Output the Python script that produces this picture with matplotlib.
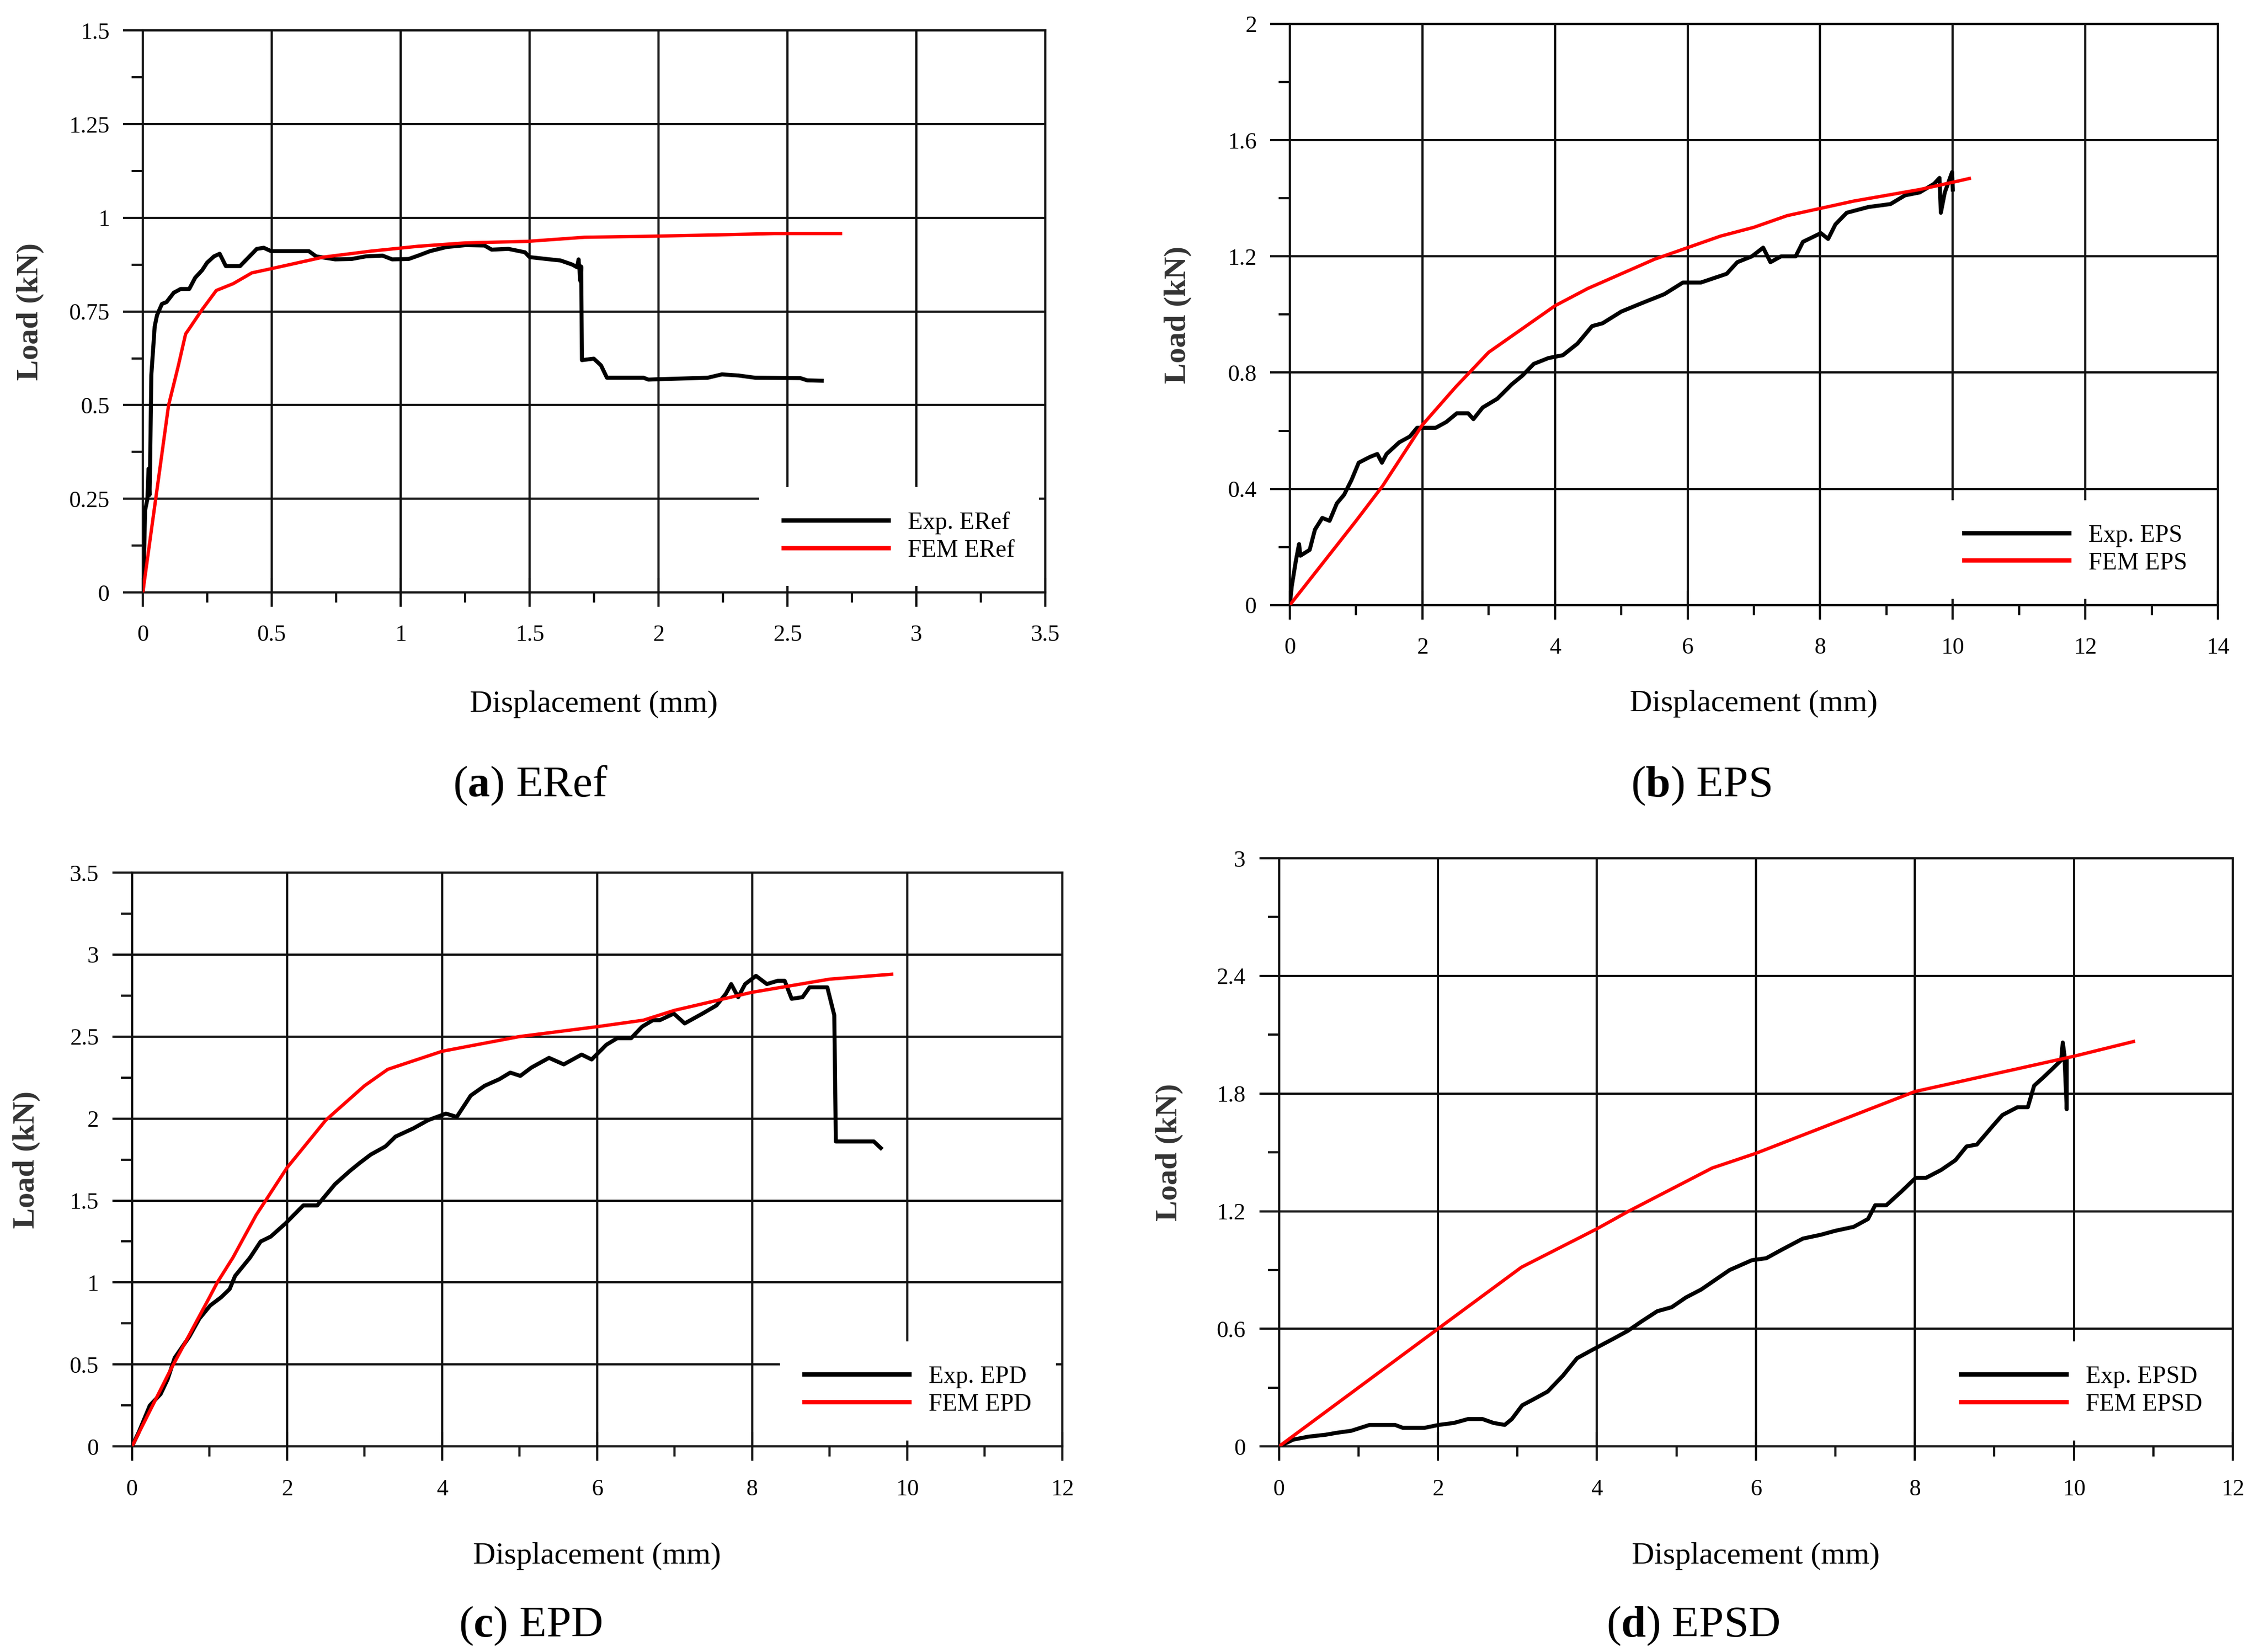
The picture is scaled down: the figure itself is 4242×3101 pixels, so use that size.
import numpy as np
import matplotlib
matplotlib.use("Agg")
import matplotlib.pyplot as plt
from matplotlib.ticker import MultipleLocator, FixedLocator

plt.rcParams['font.family'] = ['Liberation Serif', 'DejaVu Serif']
plt.rcParams['mathtext.fontset'] = 'custom'
plt.rcParams['mathtext.rm'] = 'Liberation Serif'
plt.rcParams['mathtext.bf'] = 'Liberation Serif:bold'

# ---------------- (a) ERef ----------------
a_exp_x = [0, 0.0037, 0.009, 0.018, 0.022, 0.026, 0.028, 0.030, 0.033, 0.040, 0.046, 0.055, 0.074, 0.092,
           0.120, 0.147, 0.180, 0.203, 0.230, 0.249, 0.276, 0.298, 0.322, 0.377, 0.442, 0.469, 0.497,
           0.644, 0.672, 0.746, 0.810, 0.865, 0.930, 0.967, 1.031, 1.068, 1.114, 1.178, 1.252, 1.325,
           1.353, 1.418, 1.482, 1.500, 1.565, 1.620, 1.666, 1.684, 1.690, 1.697, 1.700, 1.703, 1.749,
           1.777, 1.800, 1.942, 1.961, 1.997, 2.191, 2.246, 2.310, 2.375, 2.550, 2.577, 2.633]
a_exp_y = [0, 0.07, 0.22, 0.25, 0.33, 0.26, 0.33, 0.43, 0.58, 0.65, 0.71, 0.74, 0.77, 0.775,
           0.80, 0.81, 0.81, 0.84, 0.86, 0.88, 0.897, 0.904, 0.871, 0.871, 0.917, 0.92, 0.911,
           0.911, 0.897, 0.889, 0.89, 0.897, 0.899, 0.889, 0.89, 0.899, 0.911, 0.922, 0.927, 0.926,
           0.915, 0.917, 0.908, 0.895, 0.89, 0.886, 0.875, 0.868, 0.889, 0.831, 0.87, 0.62, 0.624,
           0.606, 0.573, 0.573, 0.568, 0.569, 0.573, 0.582, 0.579, 0.573, 0.572, 0.566, 0.565]
a_fem_x = [0, 0.05, 0.10, 0.138, 0.166, 0.18, 0.23, 0.285, 0.35, 0.423, 0.497, 0.589, 0.70, 0.884,
           1.068, 1.252, 1.491, 1.712, 1.988, 2.264, 2.449, 2.706]
a_fem_y = [0, 0.25, 0.50, 0.606, 0.69, 0.704, 0.755, 0.806, 0.824, 0.853, 0.864, 0.878, 0.895, 0.911,
           0.924, 0.933, 0.937, 0.948, 0.951, 0.955, 0.958, 0.958]

# ---------------- (b) EPS ----------------
b_exp_x = [0, 0.03, 0.09, 0.14, 0.16, 0.30, 0.38, 0.49, 0.60, 0.71, 0.82, 0.93, 1.04, 1.21, 1.32, 1.39,
           1.46, 1.65, 1.81, 1.92, 2.03, 2.20, 2.36, 2.52, 2.69, 2.77, 2.91, 3.13, 3.35, 3.51, 3.68,
           3.90, 4.12, 4.34, 4.56, 4.72, 5.0, 5.32, 5.65, 5.93, 6.20, 6.59, 6.75, 6.97, 7.14, 7.25,
           7.41, 7.63, 7.74, 8.01, 8.12, 8.23, 8.40, 8.73, 9.06, 9.28, 9.50, 9.72, 9.80, 9.82, 9.88,
           9.99, 10.0]
b_exp_y = [0, 0.065, 0.15, 0.21, 0.17, 0.19, 0.26, 0.30, 0.29, 0.35, 0.38, 0.43, 0.49, 0.51, 0.52, 0.49,
           0.52, 0.56, 0.58, 0.61, 0.61, 0.61, 0.63, 0.66, 0.66, 0.64, 0.68, 0.71, 0.76, 0.79, 0.83,
           0.85, 0.86, 0.90, 0.96, 0.97, 1.01, 1.04, 1.07, 1.11, 1.11, 1.14, 1.18, 1.20, 1.23, 1.18,
           1.20, 1.20, 1.25, 1.28, 1.26, 1.31, 1.35, 1.37, 1.38, 1.41, 1.42, 1.45, 1.47, 1.35, 1.42,
           1.49, 1.43]
b_fem_x = [0, 1.0, 1.4, 2.0, 2.5, 3.0, 3.5, 4.0, 4.5, 5.0, 5.5, 6.0, 6.5, 7.0, 7.5, 8.0, 8.5, 9.0,
           9.5, 10.0, 10.25]
b_fem_y = [0, 0.29, 0.41, 0.62, 0.75, 0.87, 0.95, 1.03, 1.09, 1.14, 1.19, 1.23, 1.27, 1.30, 1.34,
           1.365, 1.39, 1.41, 1.43, 1.455, 1.468]

# ---------------- (c) EPD ----------------
c_exp_x = [0, 0.09, 0.23, 0.37, 0.46, 0.55, 0.74, 0.87, 1.01, 1.15, 1.26, 1.33, 1.52, 1.66, 1.79, 1.98,
           2.21, 2.39, 2.62, 2.81, 2.94, 3.08, 3.27, 3.40, 3.63, 3.82, 4.05, 4.19, 4.37, 4.55, 4.74,
           4.88, 5.01, 5.15, 5.38, 5.57, 5.80, 5.93, 6.12, 6.26, 6.44, 6.58, 6.72, 6.81, 6.99, 7.13,
           7.36, 7.54, 7.66, 7.73, 7.82, 7.91, 8.05, 8.19, 8.33, 8.42, 8.51, 8.65, 8.74, 8.97, 9.06,
           9.08, 9.20, 9.57, 9.66]
c_exp_y = [0, 0.09, 0.25, 0.32, 0.41, 0.54, 0.67, 0.78, 0.86, 0.91, 0.96, 1.04, 1.15, 1.25, 1.28, 1.36,
           1.47, 1.47, 1.60, 1.68, 1.73, 1.78, 1.83, 1.89, 1.94, 1.99, 2.03, 2.01, 2.14, 2.20, 2.24,
           2.28, 2.26, 2.31, 2.37, 2.33, 2.39, 2.36, 2.45, 2.49, 2.49, 2.56, 2.60, 2.60, 2.64, 2.58,
           2.64, 2.69, 2.76, 2.82, 2.74, 2.82, 2.87, 2.82, 2.84, 2.84, 2.73, 2.74, 2.80, 2.80, 2.63,
           1.86, 1.86, 1.86, 1.82]
c_fem_x = [0, 0.5, 1.0, 1.1, 1.3, 1.6, 2.0, 2.5, 3.0, 3.3, 4.0, 5.0, 6.0, 6.6, 7.0, 8.0, 9.0, 9.8]
c_fem_y = [0, 0.47, 0.91, 1.0, 1.15, 1.41, 1.70, 1.99, 2.20, 2.30, 2.41, 2.50, 2.56, 2.60, 2.66, 2.77,
           2.85, 2.88]

# ---------------- (d) EPSD ----------------
d_exp_x = [0, 0.18, 0.37, 0.59, 0.73, 0.91, 1.14, 1.46, 1.56, 1.83, 2.01, 2.20, 2.38, 2.56, 2.70, 2.84,
           2.93, 3.06, 3.20, 3.38, 3.57, 3.75, 3.93, 4.21, 4.39, 4.57, 4.76, 4.94, 5.12, 5.31, 5.49,
           5.67, 5.95, 6.13, 6.31, 6.59, 6.82, 7.0, 7.23, 7.41, 7.50, 7.64, 7.83, 8.01, 8.14, 8.33,
           8.51, 8.65, 8.78, 8.97, 9.10, 9.29, 9.42, 9.50, 9.61, 9.74, 9.84, 9.86, 9.88, 9.91, 9.91]
d_exp_y = [0, 0.035, 0.05, 0.06, 0.07, 0.08, 0.11, 0.11, 0.095, 0.095, 0.11, 0.12, 0.14, 0.14, 0.12, 0.11,
           0.14, 0.21, 0.24, 0.28, 0.36, 0.45, 0.49, 0.55, 0.59, 0.64, 0.69, 0.71, 0.76, 0.80, 0.85,
           0.90, 0.95, 0.96, 1.00, 1.06, 1.08, 1.10, 1.12, 1.16, 1.23, 1.23, 1.30, 1.37, 1.37, 1.41,
           1.46, 1.53, 1.54, 1.63, 1.69, 1.73, 1.73, 1.84, 1.88, 1.93, 1.97, 2.06, 2.00, 1.72, 1.97]
d_fem_x = [0, 2.0, 3.05, 4.0, 4.4, 5.45, 6.0, 8.0, 10.0, 10.75]
d_fem_y = [0, 0.60, 0.914, 1.11, 1.20, 1.42, 1.495, 1.81, 1.99, 2.065]

# ---------------- axis settings ----------------
panels = [
    dict(exp=(a_exp_x, a_exp_y), fem=(a_fem_x, a_fem_y), names=("Exp. ERef", "FEM ERef"),
         xticks=[0, 0.5, 1, 1.5, 2, 2.5, 3, 3.5], xlabels=["0", "0.5", "1", "1.5", "2", "2.5", "3", "3.5"],
         yticks=[0, 0.25, 0.5, 0.75, 1, 1.25, 1.5], ylabels=["0", "0.25", "0.5", "0.75", "1", "1.25", "1.5"],
         caption=("a", "ERef")),
    dict(exp=(b_exp_x, b_exp_y), fem=(b_fem_x, b_fem_y), names=("Exp. EPS", "FEM EPS"),
         xticks=[0, 2, 4, 6, 8, 10, 12, 14], xlabels=["0", "2", "4", "6", "8", "10", "12", "14"],
         yticks=[0, 0.4, 0.8, 1.2, 1.6, 2.0], ylabels=["0", "0.4", "0.8", "1.2", "1.6", "2"],
         caption=("b", "EPS")),
    dict(exp=(c_exp_x, c_exp_y), fem=(c_fem_x, c_fem_y), names=("Exp. EPD", "FEM EPD"),
         xticks=[0, 2, 4, 6, 8, 10, 12], xlabels=["0", "2", "4", "6", "8", "10", "12"],
         yticks=[0, 0.5, 1, 1.5, 2, 2.5, 3, 3.5], ylabels=["0", "0.5", "1", "1.5", "2", "2.5", "3", "3.5"],
         caption=("c", "EPD")),
    dict(exp=(d_exp_x, d_exp_y), fem=(d_fem_x, d_fem_y), names=("Exp. EPSD", "FEM EPSD"),
         xticks=[0, 2, 4, 6, 8, 10, 12], xlabels=["0", "2", "4", "6", "8", "10", "12"],
         yticks=[0, 0.6, 1.2, 1.8, 2.4, 3.0], ylabels=["0", "0.6", "1.2", "1.8", "2.4", "3"],
         caption=("d", "EPSD")),
]

rects = [
    [0.0632, 0.6414, 0.3993, 0.3401],
    [0.5707, 0.6337, 0.4107, 0.3518],
    [0.0584, 0.1244, 0.4116, 0.3474],
    [0.5659, 0.1244, 0.4221, 0.3561],
]
xlabelpads = [20, 14, 19, 19]
ylabelpads = [11, 16, 13, 15]
captions_pos = [(0.2347, 0.5244), (0.7526, 0.5244), (0.2347, 0.0157), (0.749, 0.0157)]

fig = plt.figure(figsize=(14.14, 10.337), dpi=300)

for p, r, cp, xlp, ylp in zip(panels, rects, captions_pos, xlabelpads, ylabelpads):
    ax = fig.add_axes(r)
    ax.set_axisbelow(True)
    ax.plot(p["exp"][0], p["exp"][1], color="black", lw=1.8, label=p["names"][0], zorder=3)
    ax.plot(p["fem"][0], p["fem"][1], color="#ff0000", lw=1.5, label=p["names"][1], zorder=3)
    xt, yt = p["xticks"], p["yticks"]
    ax.set_xlim(xt[0], xt[-1])
    ax.set_ylim(yt[0], yt[-1])
    ax.xaxis.set_major_locator(FixedLocator(xt))
    ax.yaxis.set_major_locator(FixedLocator(yt))
    ax.set_xticklabels(p["xlabels"])
    ax.set_yticklabels(p["ylabels"])
    ax.xaxis.set_minor_locator(MultipleLocator((xt[1] - xt[0]) / 2))
    ax.yaxis.set_minor_locator(MultipleLocator((yt[1] - yt[0]) / 2))
    ax.grid(True, which="major", color="#111111", lw=1.0)
    for s in ax.spines.values():
        s.set_color("#111111")
        s.set_linewidth(1.0)
    ax.tick_params(axis="x", which="major", direction="inout", length=13, width=1.0, pad=8,
                   labelsize=10.5, color="#111111")
    ax.tick_params(axis="x", which="minor", direction="out", length=4.5, width=1.0, color="#111111")
    ax.tick_params(axis="y", which="major", direction="out", length=9, width=1.0, pad=6,
                   labelsize=10.5, color="#111111")
    ax.tick_params(axis="y", which="minor", direction="out", length=5, width=1.0, color="#111111")
    ax.set_xlabel("Displacement (mm)", fontsize=14, labelpad=xlp)
    ax.set_ylabel("Load (kN)", fontsize=14, fontweight="bold", labelpad=ylp, color="#333333")
    leg = ax.legend(loc="lower right", bbox_to_anchor=(1.0, 0.0), borderaxespad=0.25, fontsize=11,
                    frameon=True, fancybox=False, framealpha=1.0, facecolor="white", edgecolor="none",
                    handlelength=4.3, handletextpad=0.8, labelspacing=0.2, borderpad=1.0)
    for ln in leg.get_lines():
        ln.set_linewidth(2.0)
    letter, name = p["caption"]
    fig.text(cp[0], cp[1], r"($\mathbf{%s}$) %s" % (letter, name), ha="center", va="center",
             fontsize=20)

fig.savefig("out.png", dpi=300, facecolor="white")
